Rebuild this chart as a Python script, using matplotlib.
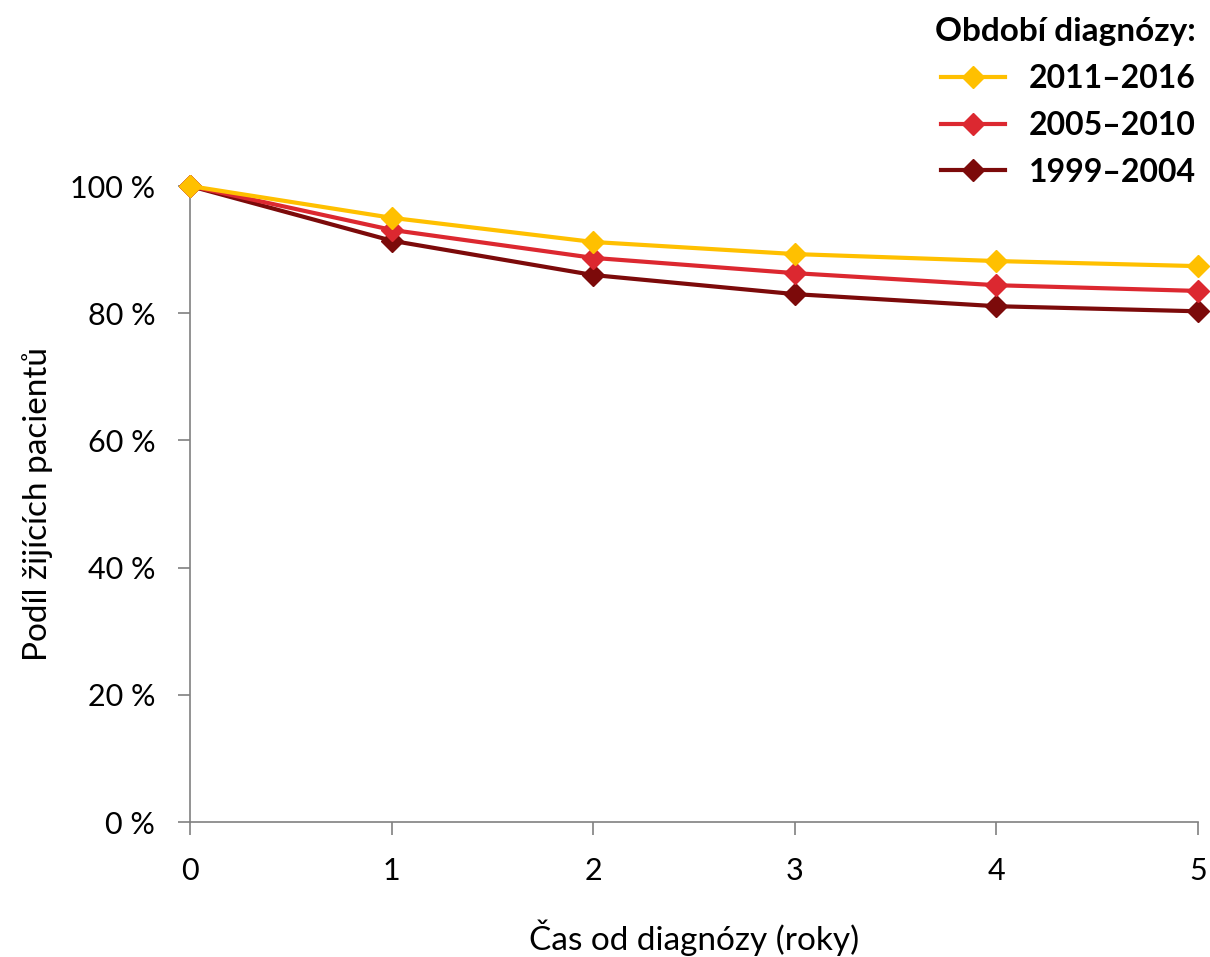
import numpy as np
import matplotlib.pyplot as plt

# Přežití pacientů podle období diagnózy (podíl žijících, %)
roky = [0, 1, 2, 3, 4, 5]
obdobi = ['2011–2016', '2005–2010', '1999–2004']
preziti_2011_2016 = [100, 95.0, 91.2, 89.3, 88.2, 87.4]
preziti_2005_2010 = [100, 93.1, 88.7, 86.3, 84.4, 83.5]
preziti_1999_2004 = [100, 91.4, 86.0, 83.0, 81.1, 80.3]
y_ticks = [0, 20, 40, 60, 80, 100]

plt.rcParams['font.family'] = ['Lato', 'DejaVu Sans']

barvy = {'2011–2016': '#FFC000', '2005–2010': '#DC2830', '1999–2004': '#7C0A0A'}
data = {'2011–2016': preziti_2011_2016,
        '2005–2010': preziti_2005_2010,
        '1999–2004': preziti_1999_2004}

fig = plt.figure(figsize=(12.1, 9.57), dpi=100)
ax = fig.add_axes([190 / 1210, 1 - 822 / 957, 1008 / 1210, 636 / 957])

# nejstarší období kreslit první, aby nejnovější bylo navrchu
handles = {}
for i, nazev in enumerate(reversed(obdobi)):
    line, = ax.plot(roky, data[nazev], color=barvy[nazev], linewidth=3,
                    marker='D', markersize=11, markeredgecolor=barvy[nazev],
                    clip_on=False, zorder=3 + i, label=nazev)
    handles[nazev] = line

ax.set_xlim(0, 5)
ax.set_ylim(0, 100)
ax.set_xticks(roky)
ax.set_yticks(y_ticks)
ax.set_yticklabels([f'{v} %' for v in y_ticks])

for side in ['top', 'right']:
    ax.spines[side].set_visible(False)
for side in ['left', 'bottom']:
    ax.spines[side].set_color('#808080')
    ax.spines[side].set_linewidth(1.2)

ax.tick_params(axis='both', colors='#808080', length=9, width=1.2,
               direction='out', labelcolor='black', labelsize=22)
ax.tick_params(axis='x', pad=16)
ax.tick_params(axis='y', pad=16)

ax.set_xlabel('Čas od diagnózy (roky)', fontsize=24, labelpad=25)
ax.set_ylabel('Podíl žijících pacientů', fontsize=24, labelpad=12)

leg = fig.legend([handles[n] for n in obdobi], obdobi,
                 loc='upper right', bbox_to_anchor=(1196 / 1210, 1 - 17 / 957),
                 frameon=False, prop={'weight': 'bold', 'size': 23},
                 title='Období diagnózy:', alignment='right',
                 handlelength=2.0, handletextpad=0.75, labelspacing=0.56,
                 borderaxespad=0, borderpad=0)
leg.get_title().set_fontweight('bold')
leg.get_title().set_fontsize(24)

fig.savefig('out.png', dpi=100)
